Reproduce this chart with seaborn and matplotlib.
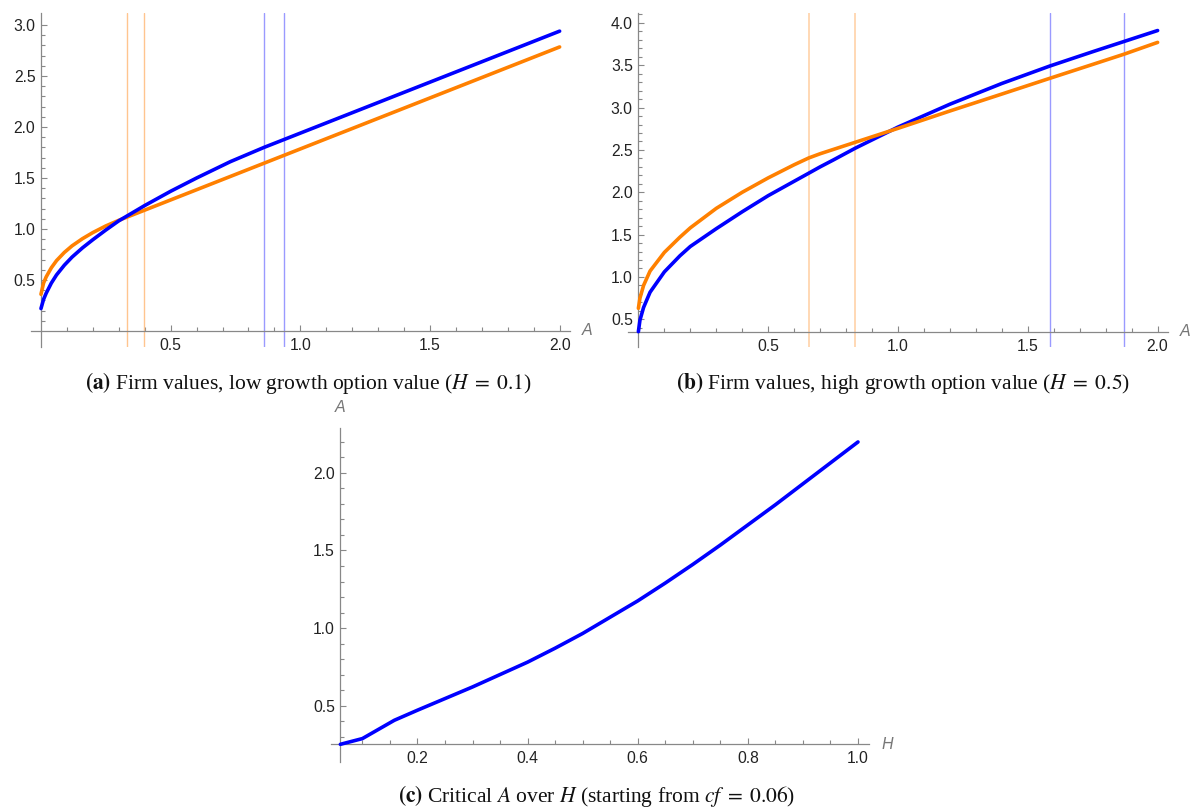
import numpy as np
import pandas as pd
import matplotlib
matplotlib.use("Agg")
import matplotlib.pyplot as plt
from matplotlib.ticker import FixedLocator, FixedFormatter
import seaborn as sns

# ---------------- data ----------------
# Panel (a): H = 0.1
a_A = [0, 0.01, 0.02, 0.04, 0.06, 0.09, 0.12, 0.16, 0.2, 0.25, 0.3, 0.35, 0.4,
       0.5, 0.6, 0.73, 0.86, 1.0, 1.25, 1.5, 1.75, 2.0]
a_blue = [0.22, 0.31, 0.37, 0.47, 0.55, 0.645, 0.725, 0.815, 0.895, 0.99, 1.08, 1.155, 1.23,
          1.37, 1.50, 1.66, 1.80, 1.94, 2.19, 2.44, 2.69, 2.94]
a_orange = [0.36, 0.47, 0.53, 0.62, 0.69, 0.77, 0.835, 0.905, 0.965, 1.03, 1.085, 1.135, 1.185,
            1.285, 1.385, 1.515, 1.645, 1.785, 2.035, 2.285, 2.535, 2.785]
a_vlines_orange = [0.33, 0.397]
a_vlines_blue = [0.86, 0.937]

# Panel (b): H = 0.5
b_A = [0, 0.006, 0.02, 0.045, 0.1, 0.16, 0.2, 0.3, 0.4, 0.5, 0.6, 0.656, 0.7,
       0.75, 0.835, 1.0, 1.2, 1.4, 1.584, 1.75, 1.87, 2.0]
b_blue = [0.354, 0.49, 0.64, 0.82, 1.06, 1.25, 1.36, 1.57, 1.77, 1.96, 2.13, 2.225, 2.30,
          2.38, 2.52, 2.77, 3.04, 3.285, 3.49, 3.66, 3.78, 3.91]
b_orange = [0.63, 0.75, 0.90, 1.07, 1.29, 1.47, 1.58, 1.81, 2.00, 2.17, 2.325, 2.405, 2.455,
            2.505, 2.59, 2.755, 2.96, 3.16, 3.345, 3.51, 3.63, 3.77]
b_vlines_orange = [0.656, 0.835]
b_vlines_blue = [1.584, 1.87]

# Panel (c): critical A over H
c_H = [0.06, 0.1, 0.158, 0.2, 0.25, 0.3, 0.35, 0.4, 0.45, 0.5, 0.55, 0.6, 0.65,
       0.7, 0.75, 0.8, 0.85, 0.9, 0.95, 1.0]
c_A = [0.25, 0.287, 0.405, 0.47, 0.545, 0.62, 0.70, 0.78, 0.87, 0.965, 1.07, 1.175, 1.29,
       1.41, 1.535, 1.665, 1.795, 1.93, 2.065, 2.2]

# tick labels
a_xticks = [0.5, 1.0, 1.5, 2.0]
a_yticks = [0.5, 1.0, 1.5, 2.0, 2.5, 3.0]
b_yticks = [0.5, 1.0, 1.5, 2.0, 2.5, 3.0, 3.5, 4.0]
c_xticks = [0.2, 0.4, 0.6, 0.8, 1.0]
c_yticks = [0.5, 1.0, 1.5, 2.0]

captions = [
    r"$\mathbf{(a)}$ Firm values, low growth option value ($H\;=\;0.1$)",
    r"$\mathbf{(b)}$ Firm values, high growth option value ($H\;=\;0.5$)",
    r"$\mathbf{(c)}$ Critical $A$ over $H$ (starting from $cf\;=\;0.06$)",
]

# ---------------- style ----------------
sns.set_style("white")
plt.rcParams["font.family"] = ["Liberation Sans", "DejaVu Sans"]
plt.rcParams["mathtext.fontset"] = "stix"

BLUE = "#0000ff"
ORANGE = "#ff8000"
AXC = "#888888"
LBL = "#222222"

W, H = 1193, 808
fig = plt.figure(figsize=(W / 100, H / 100), dpi=100)


def px_axes(x0, x1, y0, y1):
    return fig.add_axes([x0 / W, 1 - y1 / H, (x1 - x0) / W, (y1 - y0) / H])


def style_axes(ax, xlim, ylim, xorig, yorig, xmaj, xmin_, ymaj, ymin_, xlabel, ylabel_top=None):
    ax.set_xlim(*xlim)
    ax.set_ylim(*ylim)
    for s in ["top", "right"]:
        ax.spines[s].set_visible(False)
    ax.spines["left"].set_position(("data", xorig))
    ax.spines["bottom"].set_position(("data", yorig))
    for s in ["left", "bottom"]:
        ax.spines[s].set_color(AXC)
        ax.spines[s].set_linewidth(0.9)
    ax.xaxis.set_major_locator(FixedLocator(xmaj))
    ax.xaxis.set_major_formatter(FixedFormatter([f"{v:.1f}" for v in xmaj]))
    ax.xaxis.set_minor_locator(FixedLocator(xmin_))
    ax.yaxis.set_major_locator(FixedLocator(ymaj))
    ax.yaxis.set_major_formatter(FixedFormatter([f"{v:.1f}" for v in ymaj]))
    ax.yaxis.set_minor_locator(FixedLocator(ymin_))
    ax.tick_params(which="both", direction="in", color=AXC, width=0.8,
                   labelcolor=LBL, labelsize=11.3, bottom=True, left=True,
                   top=False, right=False)
    ax.tick_params(which="major", length=4.3)
    ax.tick_params(which="minor", length=2.8)
    ax.tick_params(axis="x", which="major", pad=5)
    ax.tick_params(axis="y", which="major", pad=4)
    ax.set_xlabel("")
    ax.set_ylabel("")
    ax.annotate(xlabel, xy=(1, yorig), xycoords=("axes fraction", "data"),
                xytext=(12, 0), textcoords="offset pixels", ha="left", va="center",
                fontsize=11.5, style="italic", color="#777777")
    if ylabel_top:
        ax.annotate(ylabel_top, xy=(xorig, 1), xycoords=("data", "axes fraction"),
                    xytext=(0, 20), textcoords="offset pixels", ha="center", va="center",
                    fontsize=11.5, style="italic", color="#777777")
    ax.grid(False)


def minor(lo, hi, step, majors):
    vals = np.round(np.arange(lo, hi + 1e-9, step), 3)
    return [v for v in vals if all(abs(v - m) > 1e-6 for m in majors)]


# ---------------- panel (a) ----------------
ax1 = px_axes(30.6, 570, 13, 347)
for v in a_vlines_orange:
    ax1.axvline(v, color="#ffc58f", lw=1.0, zorder=1)
for v in a_vlines_blue:
    ax1.axvline(v, color="#9a9aff", lw=1.0, zorder=1)
dfa = pd.DataFrame({"A": a_A * 2, "V": a_blue + a_orange,
                    "s": ["blue"] * len(a_A) + ["orange"] * len(a_A)})
sns.lineplot(data=dfa, x="A", y="V", hue="s", palette={"blue": BLUE, "orange": ORANGE},
             hue_order=["orange", "blue"], lw=2.6, legend=False, ax=ax1, zorder=3, sort=False)
style_axes(ax1, (-0.04, 2.04), (-0.157, 3.118), 0, 0,
           a_xticks, minor(0.1, 2.0, 0.1, a_xticks),
           a_yticks, minor(0.1, 3.0, 0.1, a_yticks), "A")

# ---------------- panel (b) ----------------
ax2 = px_axes(628, 1168, 13, 347)
for v in b_vlines_orange:
    ax2.axvline(v, color="#ffd2a8", lw=1.2, zorder=1)
for v in b_vlines_blue:
    ax2.axvline(v, color="#9a9aff", lw=1.0, zorder=1)
dfb = pd.DataFrame({"A": b_A * 2, "V": b_blue + b_orange,
                    "s": ["blue"] * len(b_A) + ["orange"] * len(b_A)})
sns.lineplot(data=dfb, x="A", y="V", hue="s", palette={"blue": BLUE, "orange": ORANGE},
             hue_order=["blue", "orange"], lw=2.6, legend=False, ax=ax2, zorder=3, sort=False)
style_axes(ax2, (-0.04, 2.04), (0.173, 4.117), 0, 0.354,
           a_xticks, minor(0.1, 2.0, 0.1, a_xticks),
           b_yticks, minor(0.4, 4.1, 0.1, b_yticks), "A")

# ---------------- panel (c) ----------------
ax3 = px_axes(331, 869, 428, 762)
dfc = pd.DataFrame({"H": c_H, "A": c_A})
sns.lineplot(data=dfc, x="H", y="A", color=BLUE, lw=2.6, ax=ax3, zorder=3, sort=False)
style_axes(ax3, (0.043, 1.02), (0.136, 2.29), 0.06, 0.25,
           c_xticks, minor(0.1, 1.0, 0.05, c_xticks),
           c_yticks, minor(0.3, 2.2, 0.1, c_yticks), "H", ylabel_top="A")

# ---------------- captions ----------------
cap_kw = dict(ha="center", va="center", fontsize=15.5, family=["Liberation Serif", "DejaVu Serif"],
              color="#111111")
fig.text(308 / W, 1 - 383 / H, captions[0], **cap_kw)
fig.text(903 / W, 1 - 383 / H, captions[1], **cap_kw)
fig.text(597 / W, 1 - 796 / H, captions[2], **cap_kw)

fig.savefig("out.png", dpi=100)
